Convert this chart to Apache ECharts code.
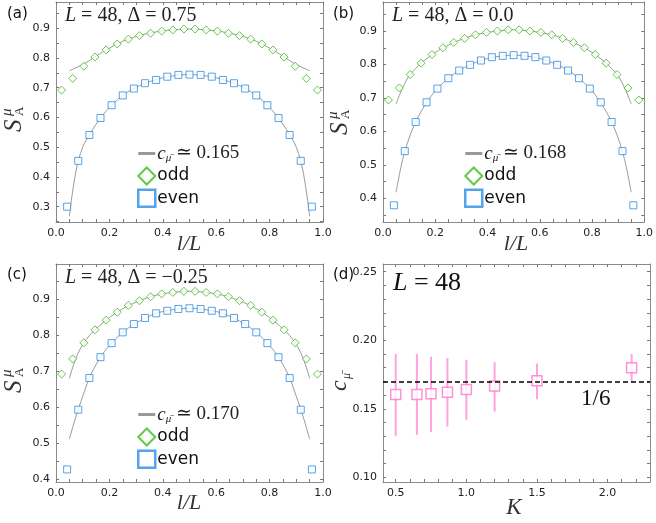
<!DOCTYPE html>
<html><head><meta charset="utf-8">
<script src="https://cdn.jsdelivr.net/npm/echarts@6/dist/echarts.min.js"></script>
<style>html,body{margin:0;padding:0;background:#fff}#c{width:656px;height:523px}</style>
</head><body><div id="c"></div>
<script>
// ---------- data ----------
const L = 48;
const lOdd = [1,3,5,7,9,11,13,15,17,19,21,23,25,27,29,31,33,35,37,39,41,43,45,47];
const lEven = [2,4,6,8,10,12,14,16,18,20,22,24,26,28,30,32,34,36,38,40,42,44,46];

const aOdd = [0.692,0.731,0.772,0.803,0.827,0.847,0.863,0.875,0.883,0.890,0.894,0.897,0.897,0.894,0.890,0.883,0.875,0.863,0.847,0.827,0.803,0.772,0.731,0.692];
const aEven = [0.300,0.454,0.541,0.598,0.641,0.674,0.697,0.715,0.726,0.737,0.743,0.744,0.743,0.737,0.726,0.715,0.697,0.674,0.641,0.598,0.541,0.454,0.300];
const bOdd = [0.694,0.730,0.770,0.804,0.830,0.850,0.866,0.878,0.889,0.896,0.900,0.904,0.904,0.900,0.896,0.889,0.878,0.866,0.850,0.830,0.804,0.770,0.730,0.694];
const bEven = [0.379,0.541,0.628,0.687,0.728,0.759,0.782,0.799,0.812,0.822,0.826,0.828,0.826,0.822,0.812,0.799,0.782,0.759,0.728,0.687,0.628,0.541,0.379];
const cOdd = [0.692,0.734,0.779,0.815,0.842,0.864,0.883,0.896,0.907,0.915,0.919,0.922,0.922,0.919,0.915,0.907,0.896,0.883,0.864,0.842,0.815,0.779,0.734,0.692];
const cEven = [0.427,0.593,0.681,0.739,0.778,0.808,0.831,0.848,0.861,0.868,0.873,0.875,0.873,0.868,0.861,0.848,0.831,0.808,0.778,0.739,0.681,0.593,0.427];

// fit curves
const fitX = [0.05,0.075,0.1,0.125,0.15,0.175,0.2,0.25,0.3,0.35,0.4,0.45,0.5,0.55,0.6,0.65,0.7,0.75,0.8,0.825,0.85,0.875,0.9,0.925,0.95];
const aFitOdd  = [0.757,0.767,0.778,0.791,0.806,0.820,0.833,0.856,0.872,0.883,0.891,0.895,0.897,0.895,0.891,0.883,0.872,0.856,0.833,0.820,0.806,0.791,0.778,0.767,0.757];
const aFitEven = [0.268,0.420,0.500,0.541,0.577,0.607,0.633,0.674,0.701,0.720,0.733,0.741,0.744,0.741,0.733,0.720,0.701,0.674,0.633,0.607,0.577,0.541,0.500,0.420,0.268];
const bFitOdd  = [0.682,0.730,0.766,0.788,0.807,0.822,0.836,0.858,0.875,0.888,0.896,0.901,0.904,0.901,0.896,0.888,0.875,0.858,0.836,0.822,0.807,0.788,0.766,0.730,0.682];
const bFitEven = [0.418,0.515,0.580,0.628,0.665,0.695,0.721,0.759,0.786,0.805,0.818,0.825,0.828,0.825,0.818,0.805,0.786,0.759,0.721,0.695,0.665,0.628,0.580,0.515,0.418];
const cFitOdd  = [0.680,0.737,0.774,0.799,0.818,0.834,0.849,0.874,0.892,0.906,0.915,0.920,0.922,0.920,0.915,0.906,0.892,0.874,0.849,0.834,0.818,0.799,0.774,0.737,0.680];
const cFitEven = [0.511,0.575,0.630,0.681,0.718,0.748,0.771,0.808,0.834,0.853,0.866,0.872,0.875,0.872,0.866,0.853,0.834,0.808,0.771,0.748,0.718,0.681,0.630,0.575,0.511];

const cFitLabels = ['0.165','0.168','0.170'];
const deltaLabels = ['0.75','0.0','\u22120.25'];

// panel (d)
const K = [0.5,0.65,0.75,0.866,1.0,1.2,1.5,2.17];
const cMu = [0.1605,0.1605,0.161,0.162,0.164,0.1666,0.1705,0.180];
const cLow = [0.130,0.131,0.133,0.137,0.142,0.148,0.157,0.170];
const cHigh = [0.190,0.190,0.188,0.187,0.1856,0.184,0.183,0.190];
const oneSixth = 1/6;

// ticks
const xLab = [0,0.2,0.4,0.6,0.8,1.0];
const xTick = [0,0.05,0.1,0.15,0.2,0.25,0.3,0.35,0.4,0.45,0.5,0.55,0.6,0.65,0.7,0.75,0.8,0.85,0.9,0.95,1.0];
const yLabA = [0.3,0.4,0.5,0.6,0.7,0.8,0.9];
const yLabB = [0.4,0.5,0.6,0.7,0.8,0.9];
const yTickS = [0.25,0.3,0.35,0.4,0.45,0.5,0.55,0.6,0.65,0.7,0.75,0.8,0.85,0.9,0.95];
const dxLab = [0.5,1.0,1.5,2.0];
const dxTick = [0.5,0.6,0.7,0.8,0.9,1.0,1.1,1.2,1.3,1.4,1.5,1.6,1.7,1.8,1.9,2.0,2.1,2.2];
const dyLab = [0.10,0.15,0.20,0.25];
const dyTick = [0.10,0.11,0.12,0.13,0.14,0.15,0.16,0.17,0.18,0.19,0.20,0.21,0.22,0.23,0.24,0.25];

// ---------- chart ----------
const SERIF = '"Liberation Serif","DejaVu Serif",serif';
const SANS = '"DejaVu Sans",sans-serif';
const GREEN = '#3dbb1a', BLUE = '#2b8de6', PINK = '#ff66cc', GRAY = '#9a9a9a';

const grids = [
  {left:56, top:2, width:267, height:220},
  {left:383, top:2, width:267, height:220},
  {left:56, top:264, width:267, height:218},
  {left:383, top:264, width:267, height:218}
];
const ranges = [
  {x:[0,1], y:[0.2485,0.988], xl:xLab, xt:xTick, yl:yLabA, yt:yTickS, xd:1, yd:1},
  {x:[0,1], y:[0.329,0.987], xl:xLab, xt:xTick, yl:yLabB, yt:yTickS, xd:1, yd:1},
  {x:[0,1], y:[0.392,0.998], xl:xLab, xt:xTick, yl:yLabB, yt:yTickS, xd:1, yd:1},
  {x:[0.41,2.30], y:[0.0966,0.2556], xl:dxLab, xt:dxTick, yl:dyLab, yt:dyTick, xd:1, yd:2}
];
const xAxes = [], yAxes = [];
ranges.forEach((r,g)=>{
  ['bottom','top'].forEach(pos=>{
    xAxes.push({gridIndex:g, type:'value', position:pos, min:r.x[0], max:r.x[1],
      axisLine:{show:true, onZero:false, lineStyle:{color:'#8a8a8a', width:1}},
      axisTick:{show:true, inside:true, length:3, customValues:r.xt, lineStyle:{color:'#777'}},
      axisLabel:{show:pos==='bottom', customValues:r.xl, formatter:v=>Number(v).toFixed(r.xd), color:'#222', fontSize:11, fontFamily:SANS, margin:6},
      splitLine:{show:false}});
  });
  ['left','right'].forEach(pos=>{
    yAxes.push({gridIndex:g, type:'value', position:pos, min:r.y[0], max:r.y[1],
      axisLine:{show:true, onZero:false, lineStyle:{color:'#8a8a8a', width:1}},
      axisTick:{show:true, inside:true, length:3, customValues:r.yt, lineStyle:{color:'#777'}},
      axisLabel:{show:pos==='left', customValues:r.yl, formatter:v=>Number(v).toFixed(r.yd), color:'#222', fontSize:11, fontFamily:SANS, margin:6},
      splitLine:{show:false}});
  });
});

const panels = [
  {odd:aOdd, even:aEven, fo:aFitOdd, fe:aFitEven},
  {odd:bOdd, even:bEven, fo:bFitOdd, fe:bFitEven},
  {odd:cOdd, even:cEven, fo:cFitOdd, fe:cFitEven}
];
const series = [];
const legends = [];
const legendPos = [{left:137, top:144},{left:464, top:144},{left:137, top:405}];
panels.forEach((p,g)=>{
  const xi = g*2, yi = g*2;
  series.push({name:'fit'+g, type:'line', xAxisIndex:xi, yAxisIndex:yi, showSymbol:false, symbol:'none', smooth:0.4,
    lineStyle:{color:GRAY, width:1}, itemStyle:{color:GRAY}, data:fitX.map((x,i)=>[x,p.fe[i]]), z:2});
  series.push({name:'fitO'+g, type:'line', xAxisIndex:xi, yAxisIndex:yi, showSymbol:false, symbol:'none', smooth:0.4,
    lineStyle:{color:GRAY, width:1}, data:fitX.map((x,i)=>[x,p.fo[i]]), z:2});
  series.push({name:'odd'+g, type:'scatter', xAxisIndex:xi, yAxisIndex:yi, symbol:'diamond', symbolSize:[8,8],
    itemStyle:{color:'#fff', borderColor:GREEN, borderWidth:1}, data:lOdd.map((l,i)=>[l/L,p.odd[i]]), z:3});
  series.push({name:'even'+g, type:'scatter', xAxisIndex:xi, yAxisIndex:yi, symbol:'rect', symbolSize:7,
    itemStyle:{color:'#fff', borderColor:BLUE, borderWidth:1}, data:lEven.map((l,i)=>[l/L,p.even[i]]), z:3});
  legends.push({orient:'vertical', left:legendPos[g].left, top:legendPos[g].top, itemGap:3, itemWidth:17, itemHeight:17,
    padding:0, selectedMode:false,
    data:[
      {name:'fit'+g, icon:'path://M0,0 L20,0 L20,3.5 L0,3.5 Z', itemStyle:{color:GRAY, borderWidth:0}},
      {name:'odd'+g, icon:'diamond', itemStyle:{color:'#fff', borderColor:GREEN, borderWidth:2}},
      {name:'even'+g, icon:'rect', itemStyle:{color:'#fff', borderColor:BLUE, borderWidth:2.5}}
    ],
    formatter:(n)=>{
      if (n.startsWith('fit')) return '{c|c}{s|\u03bc\u0304}{t| \u2243 '+cFitLabels[g]+'}';
      if (n.startsWith('odd')) return '{w|odd}';
      return '{w|even}';
    },
    textStyle:{padding:[0,0,0,-3], rich:{
      c:{fontFamily:SERIF, fontStyle:'italic', fontSize:19, color:'#222'},
      s:{fontFamily:SERIF, fontStyle:'italic', fontSize:11, color:'#222', padding:[9,0,0,0]},
      t:{fontFamily:SERIF, fontSize:19, color:'#222'},
      w:{fontFamily:SANS, fontSize:17, color:'#111'}
    }}});
});

// panel (d)
series.push({name:'errbars', type:'custom', xAxisIndex:6, yAxisIndex:6,
  renderItem:(params, api)=>{
    const p1 = api.coord([api.value(0), api.value(1)]);
    const p2 = api.coord([api.value(0), api.value(2)]);
    return {type:'line', shape:{x1:p1[0], y1:p1[1], x2:p2[0], y2:p2[1]}, style:{stroke:PINK, lineWidth:2, opacity:0.6}};
  },
  encode:{x:0, y:[1,2]},
  data:K.map((k,i)=>[k,cLow[i],cHigh[i]]), z:2});
series.push({name:'cmu', type:'scatter', xAxisIndex:6, yAxisIndex:6, symbol:'rect', symbolSize:10,
  itemStyle:{color:'#fff', borderColor:'#ff77cc', borderWidth:1.5}, data:K.map((k,i)=>[k,cMu[i]]), z:3,
  markLine:{symbol:'none', silent:true, label:{show:false}, lineStyle:{type:[5,3], color:'#000', width:1.5},
    data:[{yAxis:oneSixth}]}});

// text graphics
const graphic = [];
const panelLabels = [['(a)',7,16],['(b)',333,16],['(c)',7,277],['(d)',333,277]];
panelLabels.forEach(t=>graphic.push({type:'text', left:t[1], top:t[2]-9, style:{text:t[0], font:'15px '+SANS, fill:'#111'}}));
const titles = [[65,6,0],[392,6,1],[65,268,2]];
titles.forEach(t=>graphic.push({type:'text', x:t[0], y:t[1], style:{
  text:'{i|L} = 48, \u0394 = '+deltaLabels[t[2]],
  font:'20px '+SERIF, fill:'#222',
  rich:{i:{fontFamily:SERIF, fontStyle:'italic', fontSize:20}}}}));
graphic.push({type:'text', x:393, y:270, style:{text:'{i|L} = 48', font:'26px '+SERIF, fill:'#111', rich:{i:{fontFamily:SERIF, fontStyle:'italic', fontSize:26}}}});
graphic.push({type:'text', x:581, y:387, style:{text:'1/6', font:'23px '+SERIF, fill:'#111'}});
// x-axis names
[[189,244],[516,244],[189,503]].forEach(p=>graphic.push({type:'text', x:p[0], y:p[1], style:{text:'l/L', font:'italic 22px '+SERIF, fill:'#333', align:'center', verticalAlign:'middle'}}));
graphic.push({type:'text', x:514, y:508, style:{text:'K', font:'italic 23px '+SERIF, fill:'#333', align:'center', verticalAlign:'middle'}});
// y-axis names (rotated)
function sName(x,y){
  return {type:'group', x:x, y:y, rotation:Math.PI/2, children:[
    {type:'text', x:-15, y:0, style:{text:'S', font:'italic 25px '+SERIF, fill:'#333', verticalAlign:'middle'}},
    {type:'text', x:1, y:-7, style:{text:'\u03bc', font:'italic 15px '+SERIF, fill:'#333', verticalAlign:'middle'}},
    {type:'text', x:1, y:6, style:{text:'A', font:'13px '+SERIF, fill:'#333', verticalAlign:'middle'}}
  ]};
}
graphic.push(sName(14,117));
graphic.push(sName(340,120));
graphic.push(sName(14,378));
graphic.push({type:'group', x:340, y:382, rotation:Math.PI/2, children:[
  {type:'text', x:-9, y:0, style:{text:'c', font:'italic 24px '+SERIF, fill:'#333', verticalAlign:'middle'}},
  {type:'text', x:3, y:7, style:{text:'\u03bc\u0304', font:'italic 12px '+SERIF, fill:'#333', verticalAlign:'middle'}}
]});

const chart = echarts.init(document.getElementById('c'), null, {renderer:'canvas'});
chart.setOption({
  animation:false, backgroundColor:'#fff',
  grid:grids, xAxis:xAxes, yAxis:yAxes, series:series, legend:legends, graphic:graphic
});
</script></body></html>
